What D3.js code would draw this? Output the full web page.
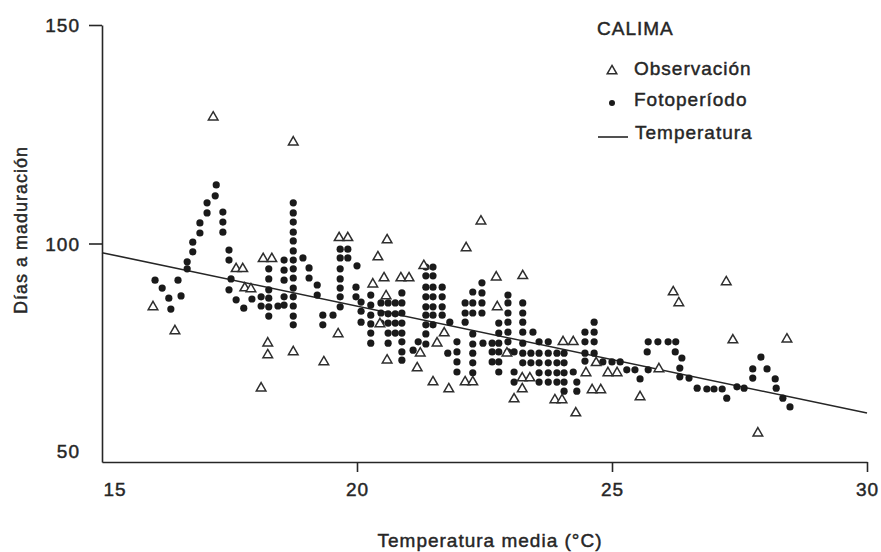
<!DOCTYPE html>
<html>
<head>
<meta charset="utf-8">
<script src="https://cdn.jsdelivr.net/npm/d3@7"></script>
<style>
  body { margin: 0; background: #fff; }
  text { font-family: "Liberation Sans", Arial, Helvetica, sans-serif; fill: #262626; letter-spacing: 1px;
         stroke: #262626; stroke-width: 0.45px; }
</style>
</head>
<body>
<svg id="chart" width="881" height="552"></svg>
<script>
// Axis ticks
const xTicks = [15, 20, 25, 30];
const yTicks = [50, 100, 150];

// Observed days to maturity vs mean temperature [°C, days]
const observacion = [
  [17.18,128.9],[18.75,123.2],[16.00,85.5],[16.43,80.0],[17.63,94.2],[17.76,94.2],
  [17.80,89.8],[17.92,89.6],[18.16,96.5],[18.33,96.5],[18.25,77.2],[18.25,74.5],
  [18.75,75.2],[18.12,66.9],[19.65,101.3],[19.82,101.3],[19.63,79.3],[19.35,72.9],
  [20.59,100.8],[20.41,96.9],[20.53,92.1],[20.31,90.7],[20.57,88.0],[20.86,92.1],
  [21.02,92.1],[20.45,81.6],[20.59,73.3],[21.24,74.9],[21.18,71.5],[21.49,68.3],
  [21.80,66.7],[21.31,94.9],[21.57,77.2],[21.71,79.5],[22.43,105.1],[22.14,99.0],
  [22.73,92.3],[23.25,92.6],[22.75,85.5],[22.12,68.3],[22.27,68.3],[22.94,74.9],
  [23.24,69.2],[23.39,69.2],[23.24,66.7],[23.08,64.4],[23.88,64.2],[24.02,64.2],
  [24.29,61.2],[24.04,77.5],[24.24,77.5],[24.69,72.7],[24.49,70.4],[24.92,70.4],
  [25.10,70.4],[24.61,66.5],[24.78,66.5],[26.20,88.9],[26.31,86.4],[27.24,91.2],
  [27.37,77.9],[25.55,64.9],[25.92,71.3],[27.86,56.6],[28.43,78.1]
];

// Photoperiod model estimates [°C, days]
const fotoperiodo = [
  [16.04,91.6],[16.18,89.8],[16.31,87.5],[16.35,85.0],[16.49,91.6],[16.55,88.0],
  [16.67,95.8],[16.67,94.2],[16.78,100.3],[16.78,98.1],[16.92,104.7],[16.92,102.4],
  [17.06,109.3],[17.06,107.0],[17.24,113.4],[17.22,110.9],[17.37,107.2],[17.37,104.9],[17.37,102.6],
  [17.49,98.5],[17.49,96.2],[17.53,91.9],[17.49,89.4],[17.63,87.1],[17.78,85.2],[17.94,87.3],
  [18.12,87.8],[18.12,85.7],
  [18.27,94.2],[18.27,91.9],[18.27,89.4],[18.27,87.5],[18.27,85.5],[18.27,83.4],
  [18.45,85.7],
  [18.57,96.2],[18.57,93.9],[18.57,91.6],[18.57,87.8],[18.57,85.9],
  [18.75,109.3],[18.75,107.0],[18.75,104.9],[18.75,102.6],[18.75,100.6],[18.75,98.3],[18.75,96.2],
  [18.75,94.2],[18.75,92.1],[18.75,89.8],[18.75,87.8],[18.75,85.7],[18.75,83.4],[18.75,81.4],
  [18.94,96.7],[19.06,94.4],[19.06,92.1],[19.22,90.5],[19.22,88.2],[19.33,83.6],[19.33,81.4],[19.53,83.6],
  [19.67,98.7],[19.67,96.7],[19.67,94.2],[19.67,91.9],[19.67,89.8],[19.67,87.8],[19.67,85.5],
  [19.82,98.7],[19.82,96.7],
  [20.00,94.9],[19.98,90.0],[19.98,87.8],
  [20.08,86.6],[20.08,84.5],[20.08,82.0],
  [20.27,88.2],[20.27,85.9],[20.27,83.6],[20.27,81.6],[20.27,79.5],[20.27,77.2],
  [20.47,86.4],[20.47,84.1],[20.47,81.8],
  [20.61,86.4],[20.61,83.9],[20.61,81.8],[20.61,79.5],[20.61,77.2],
  [20.75,86.4],[20.75,83.9],[20.75,81.8],[20.75,79.5],
  [20.88,88.7],[20.88,86.4],[20.88,84.1],[20.88,81.8],[20.88,79.5],[20.88,77.5],[20.88,75.2],[20.88,73.3],
  [21.10,75.6],[21.20,77.5],
  [21.35,94.6],[21.35,92.6],[21.35,90.0],[21.35,87.8],[21.35,85.5],[21.35,83.6],[21.35,81.4],[21.35,79.3],[21.35,77.0],
  [21.49,94.6],[21.49,92.6],[21.49,90.0],[21.49,87.8],[21.49,85.5],[21.49,83.6],[21.49,81.4],
  [21.67,90.0],[21.67,87.8],[21.67,85.5],[21.67,83.6],
  [21.82,82.0],[21.78,74.9],
  [21.96,77.5],[21.96,75.2],[21.96,72.9],[21.96,70.6],
  [22.12,86.4],[22.12,84.1],[22.12,82.0],
  [22.27,88.9],[22.27,86.4],[22.27,84.1],[22.27,79.3],[22.27,77.0],[22.27,74.9],[22.27,72.7],[22.27,70.4],
  [22.45,91.0],[22.45,88.7],[22.45,86.4],[22.45,84.1],
  [22.47,77.2],
  [22.65,77.2],[22.65,75.2],[22.65,72.9],
  [22.78,81.8],[22.78,79.5],[22.78,77.2],[22.78,75.2],[22.78,72.9],[22.78,70.6],
  [22.96,88.2],[22.96,86.4],[22.96,84.1],[22.96,82.0],[22.96,79.7],[22.96,77.5],[22.96,75.2],
  [23.08,75.2],[23.08,70.6],[23.08,68.3],
  [23.25,86.4],[23.25,84.1],[23.25,82.0],[23.25,79.7],[23.25,77.2],[23.25,74.9],[23.25,72.7],
  [23.41,74.9],[23.41,72.7],[23.45,79.7],
  [23.57,77.5],[23.57,74.9],[23.57,72.7],[23.57,70.4],[23.57,68.3],
  [23.75,77.5],[23.75,74.9],[23.75,72.7],[23.75,70.4],[23.75,68.3],
  [23.92,74.9],[23.92,72.7],[23.92,70.4],[23.92,68.3],
  [24.06,74.9],[24.06,72.7],[24.06,70.4],[24.06,68.3],[24.06,66.2],
  [24.24,70.6],[24.31,68.3],[24.31,66.2],
  [24.47,79.7],[24.47,77.5],[24.47,74.9],[24.47,73.1],
  [24.65,82.0],[24.65,79.7],[24.65,77.5],[24.65,74.9],
  [24.82,72.9],[25.00,72.9],[25.16,72.9],
  [25.29,71.1],[25.45,71.1],[25.55,69.0],[25.71,71.1],
  [25.71,77.5],[25.90,77.5],[26.10,77.5],[26.25,77.5],[25.69,75.2],[26.24,75.2],
  [26.37,73.8],[26.33,71.5],[26.33,69.5],[26.51,69.2],[26.67,66.9],[26.86,66.7],
  [27.00,66.7],[27.16,66.7],[27.25,64.6],[27.45,67.2],[27.59,66.9],
  [27.92,74.0],[27.76,71.3],[28.04,71.3],[27.76,69.2],[28.20,69.0],[28.22,66.9],
  [28.35,64.6],[28.49,62.6]
];

// Temperature model: fitted line end points
const temperaturaT = [15, 30];
const temperaturaD = [97.9, 61.2];

const ink = "#262626";
const svg = d3.select("#chart");

const x = d3.scaleLinear().domain([15, 30]).range([102, 867]);
const y = d3.scaleLinear().domain([50, 150]).range([462, 25]);

// Y axis
const yAxis = svg.append("g")
  .attr("transform", `translate(${x(15)},0)`)
  .call(d3.axisLeft(y).tickValues(yTicks).tickSize(13).tickSizeOuter(0).tickPadding(9)
    .tickFormat(d3.format("d")));
yAxis.selectAll("text").style("font-size", "19px").attr("dy", "0.35em");
yAxis.selectAll(".tick").filter(d => d === 50).select("line").remove();
yAxis.selectAll(".tick").filter(d => d === 50).select("text").attr("dy", "-0.25em");

// X axis
const xAxis = svg.append("g")
  .attr("transform", `translate(0,${y(50)})`)
  .call(d3.axisBottom(x).tickValues(xTicks).tickSize(10).tickSizeOuter(0).tickPadding(11)
    .tickFormat(d3.format("d")));
xAxis.selectAll("text").style("font-size", "19px");
xAxis.selectAll(".tick").filter(d => d === 15).select("line").remove();
xAxis.selectAll(".tick").filter(d => d === 15).select("text").attr("text-anchor", "start").attr("x", 1);

svg.selectAll(".domain, .tick line").attr("stroke", ink).attr("stroke-width", 1.6);

// Axis titles
svg.append("text")
  .attr("x", 490).attr("y", 547)
  .attr("text-anchor", "middle")
  .style("font-size", "19px")
  .text("Temperatura media (°C)");

svg.append("text")
  .attr("transform", `translate(27,230) rotate(-90)`)
  .attr("text-anchor", "middle")
  .style("font-size", "18px")
  .text("Días a maduración");

// Temperature regression line
const line = d3.line().x(d => x(d[0])).y(d => y(d[1]));
svg.append("path")
  .datum(temperaturaT.map((t, i) => [t, temperaturaD[i]]))
  .attr("d", line)
  .attr("fill", "none")
  .attr("stroke", ink)
  .attr("stroke-width", 1.6);

// Photoperiod points
svg.append("g").selectAll("circle")
  .data(fotoperiodo)
  .join("circle")
  .attr("cx", d => x(d[0]))
  .attr("cy", d => y(d[1]))
  .attr("r", 3.6)
  .attr("fill", "#1a1a1a");

// Observations
const tri = d3.symbol().type(d3.symbolTriangle).size(40);
svg.append("g").selectAll("path")
  .data(observacion)
  .join("path")
  .attr("transform", d => `translate(${x(d[0])},${y(d[1])})`)
  .attr("d", tri)
  .attr("fill", "#fff")
  .attr("stroke", "#2e2e2e")
  .attr("stroke-width", 1.5);

// Legend
const lg = svg.append("g");
lg.append("text").attr("x", 597).attr("y", 35).style("font-size", "19px").text("CALIMA");
lg.append("path").attr("transform", "translate(612,71)").attr("d", tri)
  .attr("fill", "#fff").attr("stroke", "#2e2e2e").attr("stroke-width", 1.5);
lg.append("text").attr("x", 634).attr("y", 75).style("font-size", "19px").text("Observación");
lg.append("circle").attr("cx", 612).attr("cy", 103).attr("r", 3).attr("fill", "#1a1a1a");
lg.append("text").attr("x", 634).attr("y", 106).style("font-size", "19px").text("Fotoperíodo");
lg.append("line").attr("x1", 598).attr("x2", 628).attr("y1", 137).attr("y2", 137)
  .attr("stroke", ink).attr("stroke-width", 1.6);
lg.append("text").attr("x", 635).attr("y", 139).style("font-size", "19px").text("Temperatura");
</script>
</body>
</html>
